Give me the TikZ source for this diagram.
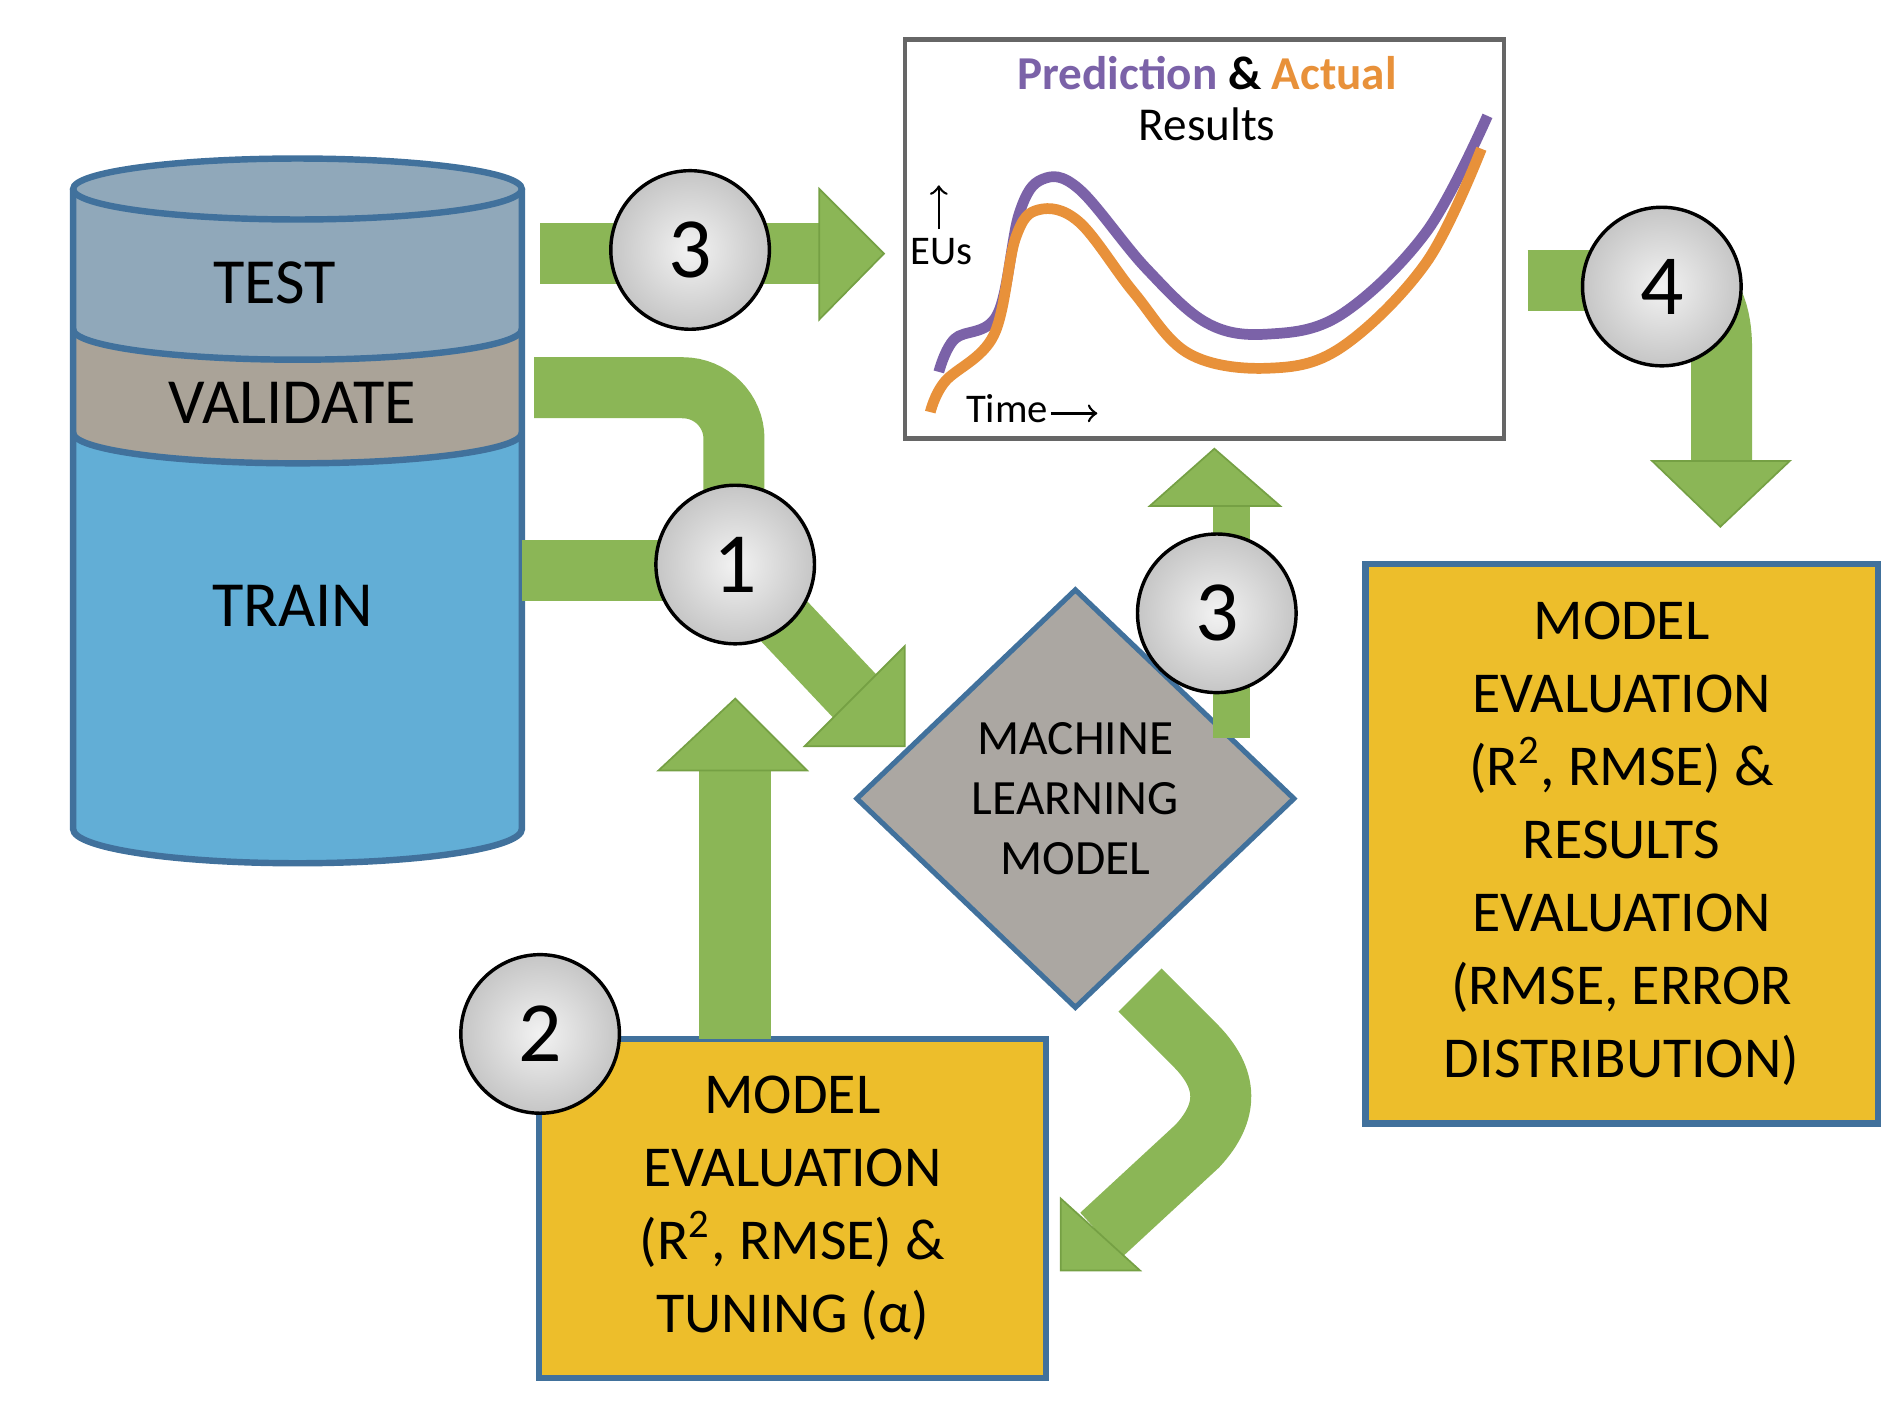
\documentclass[tikz,border=0pt]{standalone}
\usepackage{fontspec}
\setmainfont{Carlito}
\usetikzlibrary{shapes.geometric}
\definecolor{grn}{HTML}{8BB656}
\definecolor{grnd}{HTML}{75A044}
\definecolor{yel}{HTML}{EDBE2B}
\definecolor{edge}{HTML}{41719C}
\definecolor{testc}{HTML}{90A8BA}
\definecolor{valc}{HTML}{AAA398}
\definecolor{trainc}{HTML}{62AED6}
\definecolor{diam}{HTML}{ABA7A2}
\definecolor{purp}{HTML}{7B62A8}
\definecolor{orng}{HTML}{E8913A}
\begin{document}
\begin{tikzpicture}[x=0.01cm,y=-0.01cm,
  shaft/.style={draw=grn,line width=0.5cm},
  head/.style={fill=grn,draw=grnd,line width=0.4pt},
  num/.style={circle,draw=black,line width=0.8pt,minimum size=1.3cm,inner color=gray!10,outer color=gray!45,font=\fontsize{20}{22}\selectfont},
  lbl/.style={font=\fontsize{15}{17}\selectfont},
  box/.style={draw=edge,line width=1.5pt,fill=yel,align=center,font=\fontsize{13.5}{17}\selectfont}]
\useasboundingbox (0,0) rectangle (1560,1162);
% cylinder
\fill[trainc] (60,355) -- (60,680) arc[start angle=180,end angle=0,x radius=184,y radius=28] -- (428,355) -- cycle;
\fill[valc] (60,270) -- (60,355) arc[start angle=180,end angle=0,x radius=184,y radius=25] -- (428,270) -- cycle;
\fill[testc] (60,155) -- (60,270) arc[start angle=180,end angle=0,x radius=184,y radius=25] -- (428,155) -- cycle;
\draw[edge,line width=1.5pt] (60,155) -- (60,680) arc[start angle=180,end angle=0,x radius=184,y radius=28] -- (428,155);
\draw[edge,line width=1.5pt] (60,270) arc[start angle=180,end angle=0,x radius=184,y radius=25];
\draw[edge,line width=1.5pt] (60,355) arc[start angle=180,end angle=0,x radius=184,y radius=25];
\draw[edge,line width=1.5pt,fill=testc] (244,155) ellipse[x radius=184,y radius=25];
\node[lbl] (test) at (225,232) {TEST};
\node[lbl] (val) at (240,330) {VALIDATE};
\node[lbl] (train) at (240,497) {TRAIN};
% chart
\node[draw=gray!80!black,line width=1pt,fill=white,minimum width=4.91cm,minimum height=3.27cm,inner sep=0] (chart) at (988,196) {};
\node[font=\bfseries\fontsize{11}{13}\selectfont] (ttl) at (990,60) {\textcolor{purp}{Prediction} \textcolor{black}{\&} \textcolor{orng}{Actual}};
\node[font=\fontsize{11}{13}\selectfont] (res) at (990,102) {Results};
\node[font=\fontsize{9.5}{11}\selectfont] (eus) at (772,206) {EUs};
\draw[->,line width=0.6pt] (770,188) -- (770,152);
\node[font=\fontsize{9.5}{11}\selectfont] (time) at (826,335) {Time};
\draw[->,line width=0.6pt] (862,339) -- (900,339);
\draw[purp,line width=2.5pt] plot[smooth,tension=0.6] coordinates {(770,305) (783,278) (818,258) (836,175) (855,147) (885,155) (940,220) (990,265) (1040,274) (1100,258) (1170,190) (1220,95)};
\draw[orng,line width=2.5pt] plot[smooth,tension=0.6] coordinates {(763,338) (775,313) (815,275) (833,195) (852,172) (885,182) (930,240) (975,290) (1040,302) (1100,285) (1170,215) (1215,122)};
% arrow 3 top
\draw[shaft] (443,208) -- (675,208);
\fill[head] (672,155) -- (725,208) -- (672,262) -- cycle;
\node[num] (c3a) at (566,205) {3};
% arrow 1
\draw[shaft] (438,318) -- (560,318) to[out=0,in=90] (602,360) -- (602,420);
\draw[shaft] (428,468) -- (560,468);
\draw[shaft] (620,485) -- (703,573);
\fill[head] (742,530) -- (742,612) -- (660,612) -- cycle;
\node[num] (c1) at (603,463) {1};
% diamond
\node[diamond,draw=edge,line width=1.2pt,fill=diam,minimum width=3.6cm,minimum height=3.44cm,inner sep=0,align=center,font=\fontsize{11.5}{14}\selectfont] (ml) at (882,655) {MACHINE\\LEARNING\\MODEL};
% arrow 3 up
\draw[draw=grn,line width=0.3cm] (1010,605) -- (1010,412);
\fill[head] (943,415) -- (996,368) -- (1050,415) -- cycle;
\node[num] (c3b) at (998,503) {3};
% arrow 4
\draw[shaft] (1253,230) -- (1340,230);
\draw[shaft] (1380,230) to[out=0,in=90] (1412,285) -- (1412,380);
\fill[head] (1355,378) -- (1468,378) -- (1411,432) -- cycle;
\node[num] (c4) at (1363,235) {4};
% boxes
\node[box,minimum width=4.2cm,minimum height=4.59cm] (eval2) at (1330,692) {MODEL\\EVALUATION\\(R\textsuperscript{2}, RMSE) \&\\RESULTS\\EVALUATION\\(RMSE, ERROR\\DISTRIBUTION)};
\node[box,minimum width=4.16cm,minimum height=2.78cm] (eval1) at (650,991) {MODEL\\EVALUATION\\(R\textsuperscript{2}, RMSE) \&\\TUNING (α)};
% arrow 2
\draw[draw=grn,line width=0.59cm] (603,852) -- (603,628);
\fill[head] (540,632) -- (603,573) -- (662,632) -- cycle;
\node[num] (c2) at (443,848) {2};
% arrow diamond -> box
\draw[shaft] (935,812) -- (980,857) .. controls (1008,885) and (1008,912) .. (982,940) -- (903,1013);
\fill[head] (870,983) -- (935,1042) -- (870,1042) -- cycle;
\end{tikzpicture}
\end{document}
